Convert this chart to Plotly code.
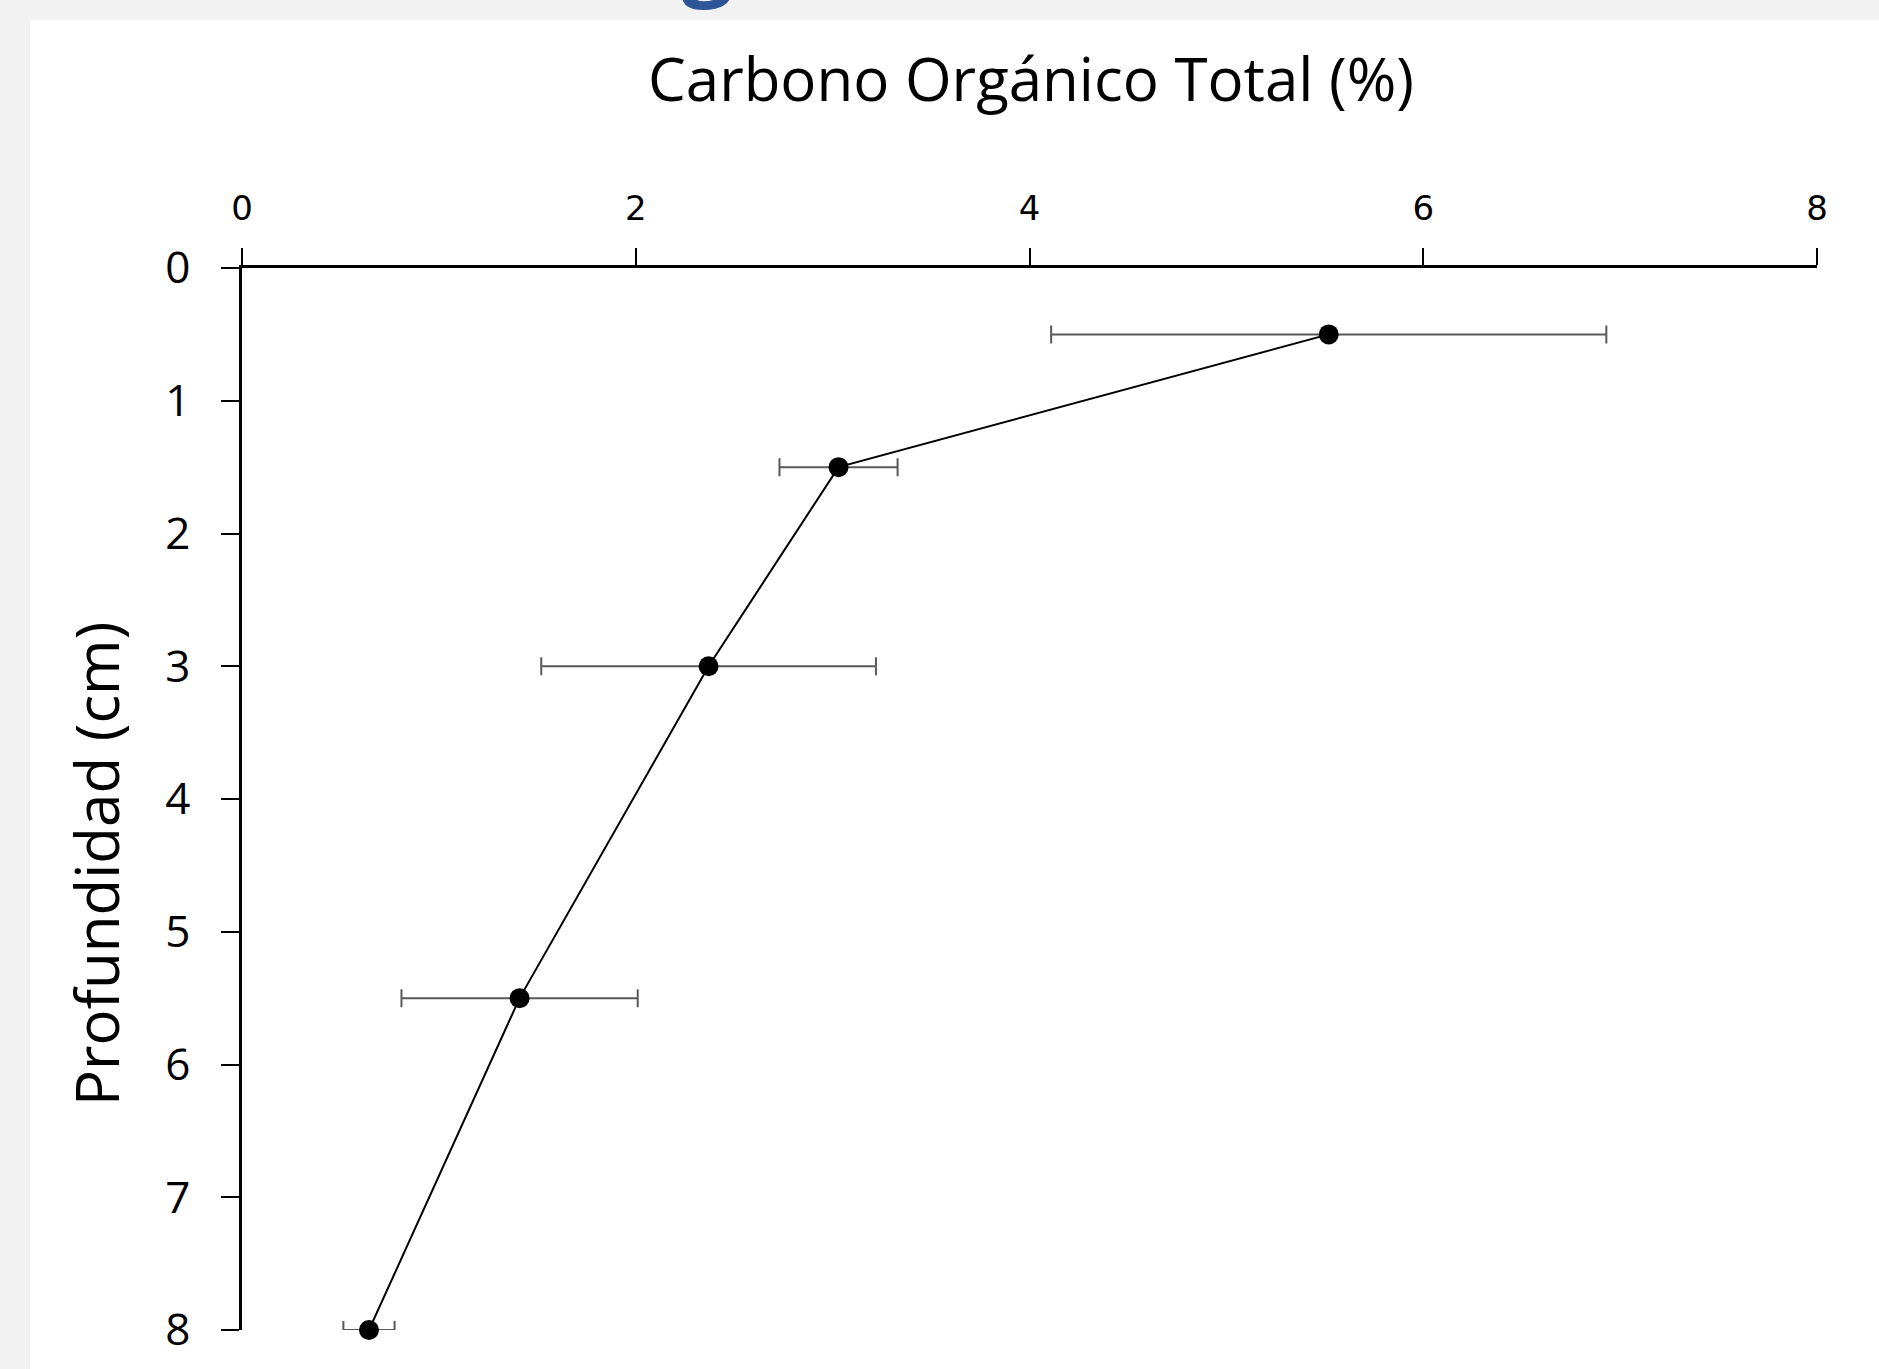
import plotly.graph_objects as go

# Data
carbono = [5.52, 3.03, 2.37, 1.41, 0.645]
profundidad = [0.5, 1.5, 3, 5.5, 8]
error_carbono = [1.41, 0.30, 0.85, 0.60, 0.13]
x_ticks = [0, 2, 4, 6, 8]
y_ticks = [0, 1, 2, 3, 4, 5, 6, 7, 8]

W, H = 1879, 1369
L, R, T, B = 242, 62, 268, 39
pw, ph = W - L - R, H - T - B

fig = go.Figure()
fig.add_trace(go.Scatter(
    x=carbono, y=profundidad, mode="lines+markers",
    line=dict(color="black", width=2),
    marker=dict(color="black", size=20),
    error_x=dict(type="data", array=error_carbono, visible=True,
                 color="#595959", thickness=2, width=9),
    cliponaxis=False, showlegend=False,
))

fig.update_layout(
    width=W, height=H,
    margin=dict(l=L, r=R, t=T, b=B),
    paper_bgcolor="#f2f2f2", plot_bgcolor="white",
    font=dict(family="Open Sans", color="black"),
    xaxis=dict(side="top", range=[0, 8], tickvals=x_ticks, ticktext=[str(v) for v in x_ticks],
               showgrid=False, zeroline=False, showline=True, linecolor="black", linewidth=2.5,
               ticks="outside", ticklen=17, tickwidth=2, tickcolor="black",
               tickfont=dict(family="DejaVu Sans", size=34, color="black"),
               ticklabelstandoff=15),
    yaxis=dict(range=[8, 0], tickvals=y_ticks, ticktext=[str(v) for v in y_ticks],
               showgrid=False, zeroline=False, showline=True, linecolor="black", linewidth=2.5,
               ticks="outside", ticklen=18, tickwidth=2, tickcolor="black",
               tickfont=dict(family="Open Sans", size=44, color="black"),
               ticklabelstandoff=22),
    shapes=[dict(type="rect", xref="paper", yref="paper",
                 x0=(30 - L) / pw, x1=1.05, y0=-0.1, y1=1 + (T - 20) / ph,
                 fillcolor="white", line=dict(width=0), layer="below")],
    annotations=[
        dict(text="Carbono Orgánico Total (%)", xref="paper", yref="paper",
             x=(1031 - L) / pw, y=1 + (T - 78) / ph, xanchor="center", yanchor="middle",
             showarrow=False, font=dict(family="Open Sans", size=60, color="black")),
        dict(text="Profundidad (cm)", xref="paper", yref="paper", textangle=-90,
             x=(96 - L) / pw, y=1 - (864 - T) / ph, xanchor="center", yanchor="middle",
             showarrow=False, font=dict(family="Open Sans", size=60, color="black")),
        dict(text="<b>g</b>", xref="paper", yref="paper",
             x=(707 - L) / pw, y=1 + (T - 16) / ph, xanchor="center", yanchor="bottom",
             showarrow=False, font=dict(family="Open Sans", size=90, color="#2F5597")),
    ],
)

fig.write_html("out.html", config={"displayModeBar": False},
               post_script="document.body.style.margin='0';document.body.style.overflow='hidden';")
